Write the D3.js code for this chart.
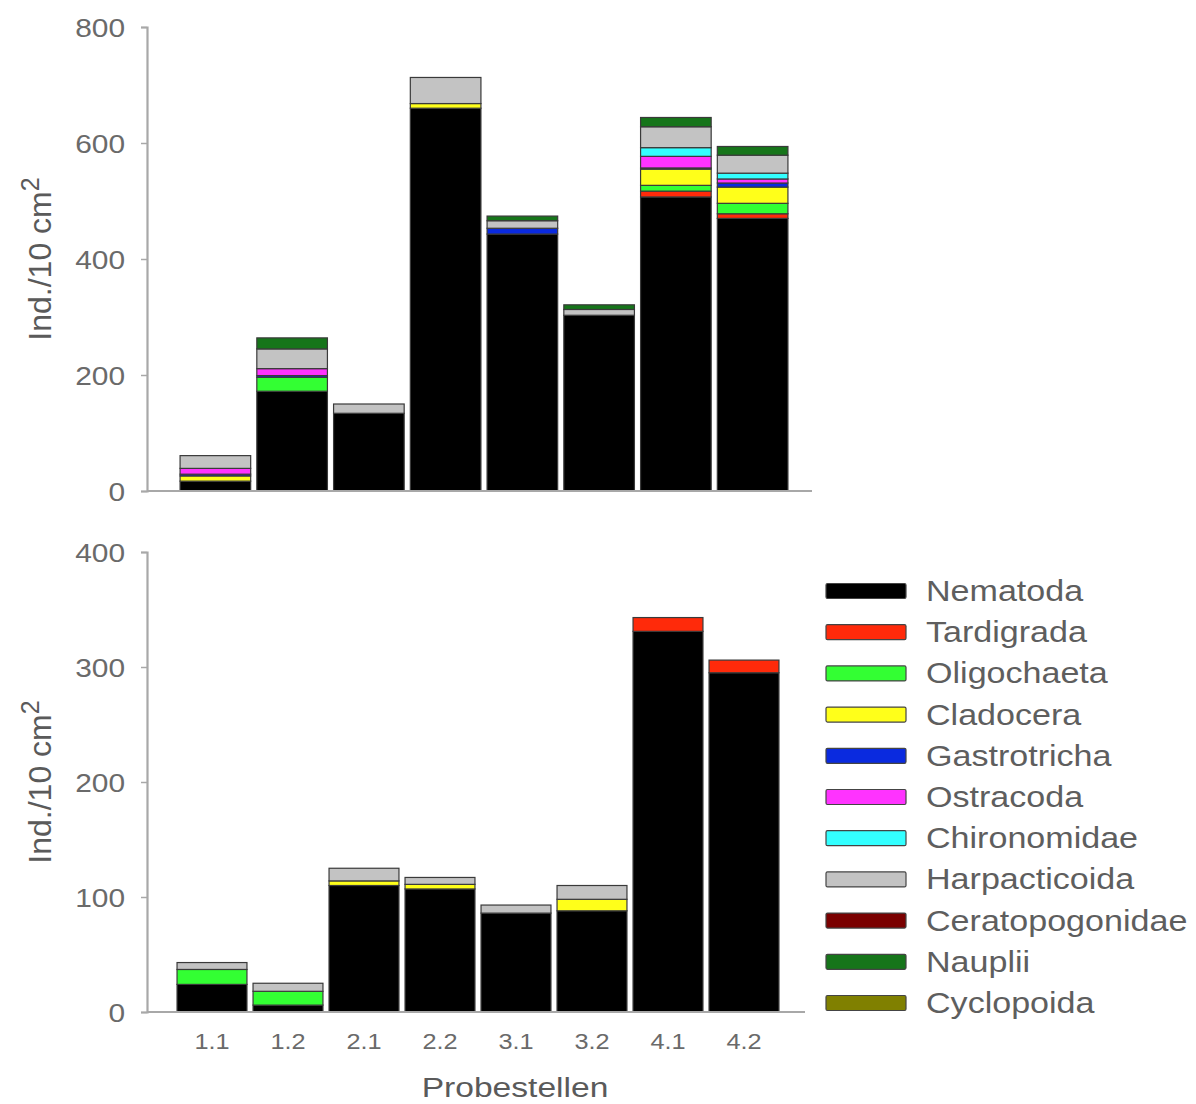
<!DOCTYPE html>
<html><head><meta charset="utf-8">
<script src="https://cdn.jsdelivr.net/npm/d3@7"></script>
<style>
html,body{margin:0;padding:0;background:#fff;}
svg{display:block;}
text{font-family:"Liberation Sans",Arial,sans-serif;}
</style></head>
<body>
<script>
const categories = ["1.1","1.2","2.1","2.2","3.1","3.2","4.1","4.2"];
const taxa = ["Nematoda","Tardigrada","Oligochaeta","Cladocera","Gastrotricha","Ostracoda","Chironomidae","Harpacticoida","Ceratopogonidae","Nauplii","Cyclopoida"];
const taxaColors = ["#000000","#ff2a0a","#33ff33","#ffff1a","#0a2adf","#ff33ff","#33ffff","#c3c3c3","#7a0000","#16751a","#808000"];

// top panel values (Ind./10 cm2)
const topNematoda       = [17,172,134,660,443,303,507,470];
const topTardigrada     = [0,0,0,0,0,0,10,8];
const topOligochaeta    = [0,24,0,0,0,0,10,18];
const topCladocera      = [9,0,0,8,0,0,28,28];
const topGastrotricha   = [3,3,0,0,10,0,2,7];
const topOstracoda      = [10,12,0,0,0,0,20,7];
const topChironomidae   = [0,0,0,0,0,0,15,10];
const topHarpacticoida  = [22,34,16,45,13,10,36,31];
const topCeratopogonidae= [0,0,0,0,0,0,0,0];
const topNauplii        = [0,19,0,0,8,8,16,15];
const topCyclopoida     = [0,0,0,0,0,0,0,0];

// bottom panel values
const botNematoda       = [24,6,110,107,86,88,331,295];
const botTardigrada     = [0,0,0,0,0,0,12,11];
const botOligochaeta    = [13,12,0,0,0,0,0,0];
const botCladocera      = [0,0,4,4,0,10,0,0];
const botGastrotricha   = [0,0,0,0,0,0,0,0];
const botOstracoda      = [0,0,0,0,0,0,0,0];
const botChironomidae   = [0,0,0,0,0,0,0,0];
const botHarpacticoida  = [6,7,11,6,7,12,0,0];
const botCeratopogonidae= [0,0,0,0,0,0,0,0];
const botNauplii        = [0,0,0,0,0,0,0,0];
const botCyclopoida     = [0,0,0,0,0,0,0,0];

const topTicks = [0,200,400,600,800];
const botTicks = [0,100,200,300,400];

const topSeries = [topNematoda,topTardigrada,topOligochaeta,topCladocera,topGastrotricha,topOstracoda,topChironomidae,topHarpacticoida,topCeratopogonidae,topNauplii,topCyclopoida];
const botSeries = [botNematoda,botTardigrada,botOligochaeta,botCladocera,botGastrotricha,botOstracoda,botChironomidae,botHarpacticoida,botCeratopogonidae,botNauplii,botCyclopoida];

function toRows(series){
  return categories.map((c,i)=>{
    const r = {cat:c};
    taxa.forEach((t,j)=>{ r[t]=series[j][i]; });
    return r;
  });
}

const W=1196,H=1104;
const svg = d3.select("body").append("svg").attr("width",W).attr("height",H);
const textCol = "#6a6a6a";
const axisCol = "#a8a8a8";

function stretchedText(g,x,y,str,size,anchor,sx){
  return g.append("text")
    .attr("transform",`translate(${x},${y}) scale(${sx},1)`)
    .attr("text-anchor",anchor)
    .attr("font-size",size)
    .attr("fill",textCol)
    .text(str);
}

function panel(series, yMax, ticks, yTop, yBottom, xRange, axisEnd, showXLabels){
  const rows = toRows(series);
  const x = d3.scaleBand().domain(categories).range(xRange).paddingInner(0.08).paddingOuter(0.04);
  const y = d3.scaleLinear().domain([0,yMax]).range([yBottom,yTop]);
  const stack = d3.stack().keys(taxa)(rows);
  const g = svg.append("g");
  stack.forEach((layer,li)=>{
    g.append("g").selectAll("rect").data(layer.filter(d=>d[1]-d[0]>0)).join("rect")
      .attr("x",d=>x(d.data.cat))
      .attr("width",x.bandwidth())
      .attr("y",d=>y(d[1]))
      .attr("height",d=>y(d[0])-y(d[1]))
      .attr("fill",taxaColors[li])
      .attr("stroke","#3a3a3a")
      .attr("stroke-width",1.2);
  });
  // y axis
  const axisX = 147;
  const ya = svg.append("g").attr("transform",`translate(${axisX},0)`)
    .call(d3.axisLeft(y).tickValues(ticks).tickSize(6).tickPadding(20).tickFormat(d3.format("d")));
  ya.select(".domain").attr("stroke",axisCol).attr("stroke-width",2.2);
  ya.selectAll(".tick line").attr("stroke",axisCol).attr("stroke-width",1.5);
  ya.selectAll(".tick text").remove();
  ya.selectAll(".tick").each(function(d){
    stretchedText(d3.select(this),-22,9,String(d),26,"end",1.15);
  });
  // x axis line
  svg.append("line").attr("x1",axisX).attr("x2",axisEnd).attr("y1",yBottom).attr("y2",yBottom)
    .attr("stroke",axisCol).attr("stroke-width",2.2);
  if(showXLabels){
    const xa = svg.append("g").attr("transform",`translate(0,${yBottom})`);
    categories.forEach(c=>{
      stretchedText(xa, x(c)+x.bandwidth()/2, 37, c, 22, "middle", 1.15);
    });
  }
  // y title
  const tt = svg.append("text")
    .attr("transform",`translate(51,${(yTop+yBottom)/2}) rotate(-90)`)
    .attr("text-anchor","middle").attr("font-size",32).attr("fill","#5a5a5a");
  tt.append("tspan").text("Ind./10 cm");
  tt.append("tspan").attr("dy",-12).attr("font-size",25).text("2");
  return {x,y};
}

panel(topSeries, 800, topTicks, 27, 491, [177,791], 812, false);
panel(botSeries, 400, botTicks, 552, 1012, [174,782], 805, true);

// x title
stretchedText(svg, 515, 1097, "Probestellen", 28, "middle", 1.2).attr("fill","#5a5a5a");

// legend
const leg = svg.append("g");
taxa.forEach((t,i)=>{
  const cy = 591 + i*41.2;
  leg.append("rect").attr("x",826).attr("y",cy-7.5).attr("width",80).attr("height",15)
    .attr("rx",1.5).attr("fill",taxaColors[i]).attr("stroke","#444").attr("stroke-width",1.2);
  stretchedText(leg, 926, cy+10, t, 29, "start", 1.175).attr("fill","#5e5e5e");
});
</script>
</body></html>
